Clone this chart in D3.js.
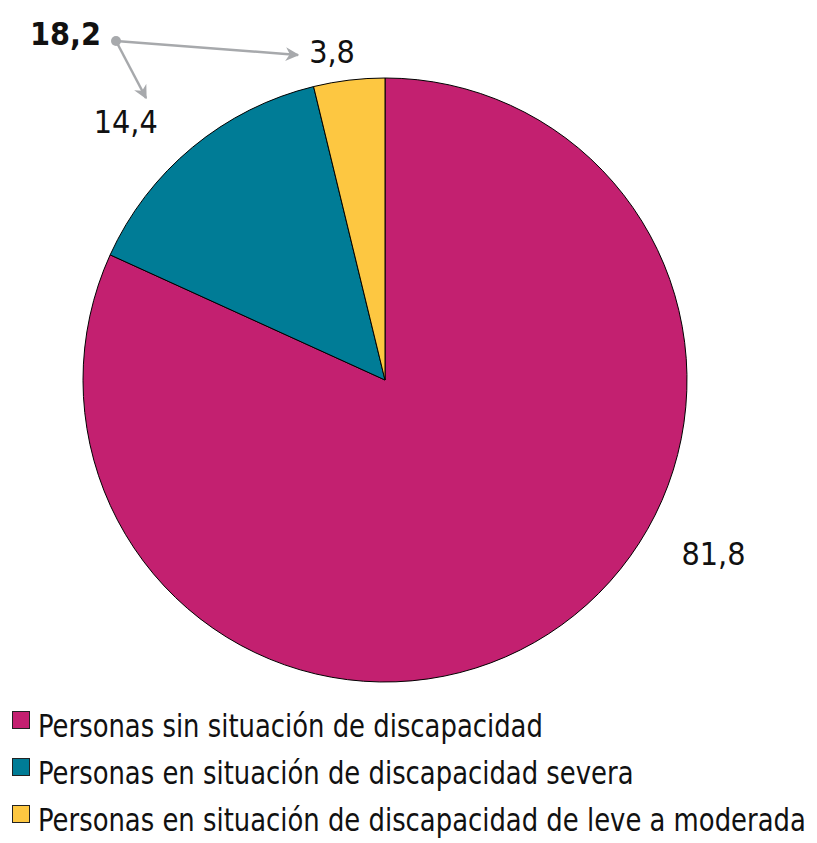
<!DOCTYPE html>
<html>
<head>
<meta charset="utf-8">
<script src="https://cdn.jsdelivr.net/npm/d3@7"></script>
<style>
  html, body { margin: 0; padding: 0; background: #fff; }
  svg { display: block; }
  text { font-family: "DejaVu Sans Condensed", "DejaVu Sans", sans-serif; font-stretch: condensed; fill: #111; }
</style>
</head>
<body>
<svg id="chart" width="817" height="843"></svg>
<script>
// Data
const categories = [
  "Personas sin situación de discapacidad",
  "Personas en situación de discapacidad severa",
  "Personas en situación de discapacidad de leve a moderada"
];
const values = [81.8, 14.4, 3.8];
const valueLabels = ["81,8", "14,4", "3,8"];
const colors = ["#C32070", "#007C96", "#FDC741"];
const totalLabel = "18,2";

const svg = d3.select("#chart");
const cx = 385, cy = 380, R = 302;

const pie = d3.pie().sort(null).value(d => d.value)
  .startAngle(0).endAngle(2 * Math.PI);
const data = categories.map((c, i) => ({ cat: c, value: values[i], label: valueLabels[i], color: colors[i] }));
const arcs = pie(data);
const arc = d3.arc().innerRadius(0).outerRadius(R);

const g = svg.append("g").attr("transform", `translate(${cx},${cy})`);
g.selectAll("path.slice").data(arcs).enter().append("path")
  .attr("class", "slice")
  .attr("d", arc)
  .attr("fill", d => d.data.color)
  .attr("stroke", "#000")
  .attr("stroke-width", 1);

// Value labels placed outside the pie (radius, clockwise angle from top)
const labelPos = [
  { r: 377, a: 119.4 },  // 81,8
  { r: 358, a: -46.4 },  // 14,4
  { r: 321, a: -9.5 }    // 3,8
];
function polar(r, deg) {
  const t = deg * Math.PI / 180;
  return [r * Math.sin(t), -r * Math.cos(t)];
}
g.selectAll("text.val").data(arcs).enter().append("text")
  .attr("class", "val")
  .attr("x", (d, i) => polar(labelPos[i].r, labelPos[i].a)[0])
  .attr("y", (d, i) => polar(labelPos[i].r, labelPos[i].a)[1])
  .attr("text-anchor", "middle")
  .attr("font-size", 32)
  .text(d => d.data.label);

// Sum annotation with arrows
svg.append("defs").append("marker")
  .attr("id", "arrow").attr("viewBox", "0 0 10 10")
  .attr("refX", 9).attr("refY", 5)
  .attr("markerWidth", 5.5).attr("markerHeight", 5.5)
  .attr("orient", "auto")
  .append("path").attr("d", "M0,0 L10,5 L0,10 L3,5 Z").attr("fill", "#A7A9AC");

const dot = [116, 41];
svg.append("text")
  .attr("x", dot[0] - 15).attr("y", 45)
  .attr("text-anchor", "end")
  .attr("font-size", 32).attr("font-weight", "bold")
  .text(totalLabel);
const targets = [[298, 55], [146, 98]];
targets.forEach(t => {
  svg.append("line")
    .attr("x1", dot[0]).attr("y1", dot[1])
    .attr("x2", t[0]).attr("y2", t[1])
    .attr("stroke", "#A7A9AC").attr("stroke-width", 2.5)
    .attr("marker-end", "url(#arrow)");
});
svg.append("circle").attr("cx", dot[0]).attr("cy", dot[1]).attr("r", 5).attr("fill", "#A7A9AC");

// Legend
const legend = svg.append("g").attr("transform", "translate(12,711)");
const rowH = 47;
const items = legend.selectAll("g.item").data(data).enter().append("g")
  .attr("class", "item")
  .attr("transform", (d, i) => `translate(0,${i * rowH})`);
items.append("rect")
  .attr("x", 0.5).attr("y", 0.5).attr("width", 17).attr("height", 17)
  .attr("fill", d => d.color).attr("stroke", "#222").attr("stroke-width", 1);
const legTexts = items.append("text")
  .attr("x", 0).attr("y", 0)
  .attr("font-size", 32)
  .text(d => d.cat);
// compress glyphs horizontally so the longest line fits the reference width
const natural = legTexts.nodes().map(n => n.getComputedTextLength());
const k = Math.min(1, 768 / d3.max(natural));
legTexts.attr("transform", `translate(26,26) scale(${k},1)`);
</script>
</body>
</html>
